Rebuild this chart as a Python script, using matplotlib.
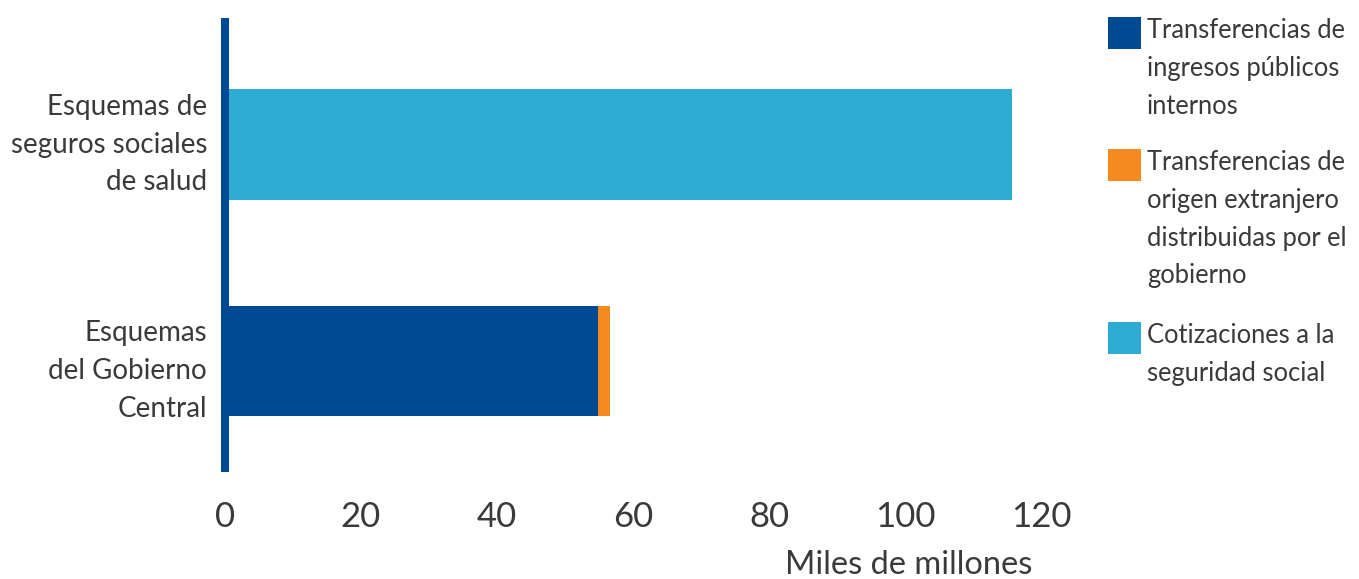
import matplotlib
matplotlib.use("Agg")
import matplotlib.pyplot as plt
from matplotlib.patches import Rectangle
from matplotlib import transforms

categories = ["Esquemas\ndel Gobierno\nCentral", "Esquemas de\nseguros sociales\nde salud"]
series_names = ["Transferencias de\ningresos públicos\ninternos",
                "Transferencias de\norigen extranjero\ndistribuidas por el\ngobierno",
                "Cotizaciones a la\nseguridad social"]
ingresos_internos = [54.9, 0.0]
origen_extranjero = [1.7, 0.0]
cotizaciones = [0.0, 115.7]
xticks = [0, 20, 40, 60, 80, 100, 120]
xlabel = "Miles de millones"

colors = ["#004A93", "#F58A1F", "#2DABD3"]
text_color = "#3a3a3a"
plt.rcParams['font.family'] = ['Lato', 'DejaVu Sans']
plt.rcParams['font.weight'] = 'normal'

W, H = 1359, 579
fig = plt.figure(figsize=(W / 100, H / 100), dpi=100)
ax = fig.add_axes([225 / W, 111 / H, 816 / W, 446 / H])

ypos = [0, 1]
left = [0, 0]
for vals, c in zip([ingresos_internos, origen_extranjero, cotizaciones], colors):
    ax.barh(ypos, vals, left=left, height=0.51, color=c, linewidth=0)
    left = [l + v for l, v in zip(left, vals)]

ax.set_xlim(0, 120)
ax.set_ylim(-0.494, 1.566)
ax.set_xticks(xticks)
ax.set_xticklabels([str(t) for t in xticks], fontsize=25, color=text_color)
ax.set_yticks(ypos)
ax.set_yticklabels([])
ax.tick_params(axis='both', length=0)
ax.tick_params(axis='x', pad=24)
for s in ['top', 'right', 'bottom']:
    ax.spines[s].set_visible(False)
ax.spines['left'].set_color(colors[0])
ax.spines['left'].set_linewidth(5.8)
ax.spines['left'].set_zorder(5)

# category labels (multi-line, right aligned left of the axis)
mid_offsets = [18, 8]      # pixel offset of middle line baseline below bar centre
cat_line_h = 37.6
blend = transforms.blended_transform_factory(ax.transAxes, ax.transData)
for y, label, mo in zip(ypos, categories, mid_offsets):
    lines = label.split("\n")
    n = len(lines)
    for i, line in enumerate(lines):
        dy = -(mo + (i - (n - 1) / 2) * cat_line_h)
        tr = transforms.offset_copy(blend, fig=fig, x=-18, y=dy, units='dots')
        ax.text(0, y, line, transform=tr, ha='right', va='baseline',
                fontsize=20, color=text_color)

fig.text(909 / W, 1 - 574 / H, xlabel, fontsize=23.5, color=text_color,
         ha='center', va='baseline')

# legend
tops = [17, 149, 322]
line_h = 37.8
for name, c, t in zip(series_names, colors, tops):
    fig.patches.append(Rectangle((1108 / W, 1 - (t + 32) / H), 33 / W, 32 / H,
                                 transform=fig.transFigure, color=c, linewidth=0))
    for i, line in enumerate(name.split("\n")):
        fig.text(1147 / W, 1 - (t + 21 + i * line_h) / H, line, fontsize=18.4,
                 color=text_color, ha='left', va='baseline')

fig.savefig("out.png", dpi=100)
